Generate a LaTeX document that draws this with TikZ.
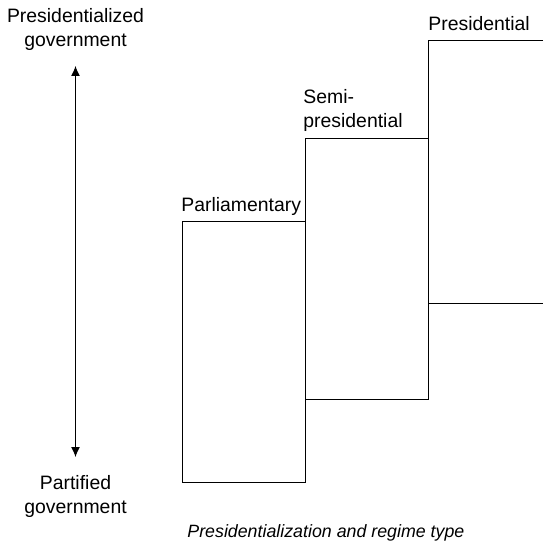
\documentclass[tikz,border=0pt]{standalone}
\usepackage{fontspec}
\setmainfont{Liberation Sans}
\usepackage{tikz}
\usetikzlibrary{arrows.meta}

\tikzset{
  regime/.style={draw, line width=0.5pt, inner sep=0pt, anchor=north west},
  tag/.style={inner sep=0pt, font=\fontsize{9.7}{12}\selectfont},
  pole/.style={tag, align=center, anchor=base},
}

\begin{document}
\begin{tikzpicture}[x=0.5pt, y=-0.5pt]
    \useasboundingbox (0,0) rectangle (543,545);
    % regime boxes
    \node[regime, minimum width=61.5pt, minimum height=130.5pt] (parl) at (182,221) {};
    \node[regime, minimum width=61.5pt, minimum height=130.5pt] (semi) at (305,138) {};
    \coordinate (prestop) at (428,41);
    \coordinate (presbot) at (428,303);
    \draw[line width=0.5pt] (543,41) -- (prestop) -- (presbot) -- (543,303);
    % regime labels
    \node[tag, anchor=base west] (presname) at (428,31) {Presidential};
    \node[tag, anchor=base west, align=left] (seminame) at (303,128) {Semi-\\presidential};
    \node[tag, anchor=base west] (parlname) at (181,212) {Parliamentary};
    % vertical axis
    \node[pole] (upper) at (75.5,47) {Presidentialized\\government};
    \node[pole] (lower) at (75.5,513) {Partified\\government};
    \coordinate (up) at (75.5,66);
    \coordinate (down) at (75.5,457);
    \draw[line width=0.5pt, {Latex[length=5pt,width=4.5pt]}-{Latex[length=5pt,width=4.5pt]}] (up) -- (down);
    % caption
    \node[tag, anchor=base west, font=\fontsize{8.9}{11}\selectfont\itshape] (caption) at (187,537)
        {Presidentialization and regime type};
\end{tikzpicture}
\end{document}
